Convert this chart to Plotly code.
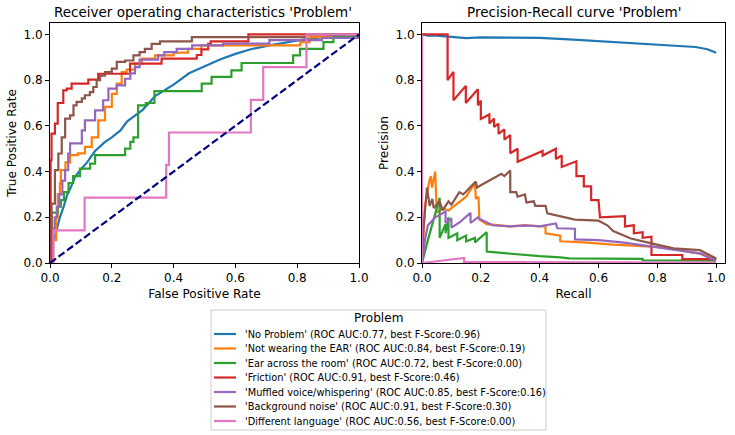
import plotly.graph_objects as go

# ---------------- data ----------------
class_names = ["No Problem", "Not wearing the EAR", "Ear across the room", "Friction",
               "Muffled voice/whispering", "Background noise", "Different language"]
roc_auc = [0.77, 0.84, 0.72, 0.91, 0.85, 0.91, 0.56]
best_f = [0.96, 0.19, 0.00, 0.46, 0.16, 0.30, 0.00]
colors = ["#1f77b4", "#ff7f0e", "#2ca02c", "#d62728", "#9467bd", "#8c564b", "#e377c2"]

# ROC curves (fpr, tpr)
roc_fpr_no_problem = [0, 0.01, 0.016, 0.032, 0.045, 0.056, 0.067, 0.081, 0.1, 0.12, 0.146, 0.178, 0.2, 0.228,
                      0.25, 0.275, 0.3, 0.34, 0.37, 0.4, 0.45, 0.5, 0.55, 0.6, 0.65, 0.71, 0.77, 0.83, 0.9, 0.96, 1.0]
roc_tpr_no_problem = [0, 0.1, 0.115, 0.20, 0.25, 0.3, 0.33, 0.377, 0.41, 0.44, 0.49, 0.53, 0.55, 0.58,
                      0.62, 0.646, 0.67, 0.73, 0.755, 0.78, 0.83, 0.86, 0.89, 0.915, 0.935, 0.952, 0.965, 0.98, 0.99, 1.0, 1.0]

roc_fpr_not_wearing = [0, 0.01, 0.02, 0.025, 0.032, 0.035, 0.05, 0.065, 0.09, 0.113, 0.135, 0.156, 0.178, 0.2,
                       0.216, 0.232, 0.248, 0.275, 0.297, 0.34, 0.40, 0.447, 0.49, 0.81, 0.84, 1.0]
roc_tpr_not_wearing = [0, 0.1, 0.2, 0.3, 0.348, 0.406, 0.44, 0.472, 0.48, 0.508, 0.55, 0.624, 0.683, 0.74,
                       0.785, 0.835, 0.846, 0.872, 0.894, 0.908, 0.92, 0.937, 0.952, 0.966, 0.988, 1.0]

roc_fpr_ear_across = [0, 0.005, 0.025, 0.035, 0.045, 0.06, 0.075, 0.097, 0.13, 0.146, 0.243, 0.26, 0.27, 0.285,
                      0.31, 0.338, 0.491, 0.523, 0.587, 0.62, 0.787, 0.809, 0.885, 0.917, 1.0]
roc_tpr_ear_across = [0, 0.22, 0.246, 0.275, 0.31, 0.35, 0.38, 0.413, 0.435, 0.472, 0.50, 0.53, 0.55, 0.69,
                      0.70, 0.752, 0.785, 0.814, 0.843, 0.875, 0.908, 0.937, 0.966, 0.988, 1.0]

roc_fpr_friction = [0, 0.002, 0.005, 0.016, 0.025, 0.043, 0.054, 0.07, 0.124, 0.156, 0.259, 0.361, 0.475, 0.49,
                    0.512, 0.52, 0.642, 1.0]
roc_tpr_friction = [0, 0.45, 0.566, 0.61, 0.70, 0.755, 0.763, 0.785, 0.802, 0.828, 0.872, 0.894, 0.91, 0.935,
                    0.959, 0.97, 1.0, 1.0]

roc_fpr_muffled = [0, 0.01, 0.015, 0.022, 0.03, 0.04, 0.049, 0.059, 0.065, 0.092, 0.103, 0.113, 0.146, 0.172,
                   0.189, 0.216, 0.243, 0.26, 0.275, 0.29, 0.35, 0.37, 0.41, 0.46, 0.56, 0.71, 0.88, 1.0]
roc_tpr_muffled = [0, 0.15, 0.2, 0.246, 0.3, 0.36, 0.406, 0.479, 0.523, 0.523, 0.58, 0.624, 0.668, 0.712,
                   0.763, 0.777, 0.806, 0.83, 0.857, 0.89, 0.908, 0.923, 0.937, 0.952, 0.96, 0.975, 0.985, 1.0]

roc_fpr_background = [0, 0.005, 0.016, 0.027, 0.038, 0.049, 0.065, 0.076, 0.086, 0.103, 0.113, 0.129, 0.14, 0.151,
                      0.162, 0.178, 0.2, 0.216, 0.243, 0.27, 0.29, 0.307, 0.329, 0.356, 0.459, 0.83, 1.0]
roc_tpr_background = [0, 0.26, 0.406, 0.479, 0.55, 0.632, 0.646, 0.69, 0.705, 0.72, 0.734, 0.748, 0.77, 0.80,
                      0.82, 0.835, 0.85, 0.88, 0.886, 0.908, 0.923, 0.937, 0.959, 0.97, 0.988, 1.0, 1.0]

roc_fpr_language = [0, 0.011, 0.112, 0.376, 0.385, 0.65, 0.69, 0.83, 1.0]
roc_tpr_language = [0, 0.143, 0.286, 0.429, 0.571, 0.714, 0.857, 1.0, 1.0]

chance_x = [0, 1]
chance_y = [0, 1]

# Precision-recall curves (recall, precision)
pr_rec_no_problem = [0, 0.02, 0.05, 0.1, 0.15, 0.2, 0.3, 0.4, 0.5, 0.6, 0.7, 0.8, 0.86, 0.93, 0.97, 1.0]
pr_prec_no_problem = [1.0, 0.995, 0.995, 0.99, 0.984, 0.987, 0.987, 0.985, 0.978, 0.97, 0.962, 0.956, 0.952, 0.945, 0.935, 0.92]

pr_rec_not_wearing = [0, 0.01, 0.025, 0.03, 0.034, 0.045, 0.05, 0.07, 0.09, 0.12, 0.15, 0.18, 0.183, 0.192, 0.195,
                      0.22, 0.3, 0.35, 0.4, 0.42, 0.42, 0.47, 0.47, 0.55, 0.65, 0.75, 0.83, 0.9, 0.95, 1.0]
pr_prec_not_wearing = [0, 0.25, 0.36, 0.38, 0.33, 0.40, 0.22, 0.24, 0.23, 0.26, 0.29, 0.35, 0.28, 0.29, 0.19,
                       0.17, 0.16, 0.165, 0.16, 0.16, 0.13, 0.12, 0.095, 0.09, 0.08, 0.075, 0.068, 0.05, 0.04, 0.02]

pr_rec_ear_across = [0, 0.02, 0.06, 0.06, 0.08, 0.08, 0.09, 0.09, 0.12, 0.12, 0.15, 0.15, 0.18, 0.18, 0.22, 0.22,
                     0.26, 0.3, 0.35, 0.4, 0.47, 0.5, 0.75, 0.75, 1.0]
pr_prec_ear_across = [0, 0.1, 0.285, 0.11, 0.17, 0.13, 0.2, 0.11, 0.13, 0.1, 0.12, 0.095, 0.11, 0.09, 0.135, 0.05,
                      0.045, 0.04, 0.035, 0.03, 0.025, 0.02, 0.018, 0.012, 0.01]

pr_rec_friction = [0, 0.087, 0.087, 0.107, 0.107, 0.149, 0.149, 0.19, 0.19, 0.2, 0.2, 0.229, 0.229, 0.245, 0.245,
                   0.26, 0.26, 0.28, 0.28, 0.3, 0.3, 0.325, 0.325, 0.41, 0.41, 0.455, 0.455, 0.475, 0.475, 0.525,
                   0.525, 0.55, 0.55, 0.575, 0.575, 0.6, 0.605, 0.69, 0.69, 0.72, 0.72, 0.75, 0.75, 0.78, 0.78,
                   0.885, 0.885, 1.0]
pr_prec_friction = [1.0, 1.0, 0.80, 0.836, 0.712, 0.775, 0.70, 0.76, 0.69, 0.71, 0.63, 0.65, 0.61, 0.632, 0.595,
                    0.61, 0.565, 0.585, 0.54, 0.56, 0.48, 0.50, 0.443, 0.49, 0.47, 0.50, 0.455, 0.47, 0.42, 0.445,
                    0.38, 0.38, 0.335, 0.335, 0.275, 0.275, 0.2, 0.205, 0.16, 0.165, 0.13, 0.135, 0.11, 0.115, 0.035,
                    0.035, 0.017, 0.017]

pr_rec_muffled = [0, 0.01, 0.02, 0.045, 0.08, 0.08, 0.1, 0.1, 0.13, 0.165, 0.165, 0.19, 0.2, 0.24, 0.3, 0.35, 0.4,
                  0.455, 0.46, 0.52, 0.52, 0.6, 0.68, 0.78, 0.855, 0.945, 0.98, 1.0]
pr_prec_muffled = [0, 0.1, 0.165, 0.2, 0.225, 0.175, 0.195, 0.155, 0.18, 0.22, 0.175, 0.2, 0.19, 0.165, 0.16, 0.165,
                   0.16, 0.173, 0.152, 0.15, 0.103, 0.1, 0.09, 0.071, 0.056, 0.042, 0.02, 0.015]

pr_rec_background = [0, 0.005, 0.017, 0.026, 0.035, 0.04, 0.06, 0.07, 0.09, 0.1, 0.127, 0.14, 0.183, 0.187, 0.2,
                     0.25, 0.27, 0.28, 0.3, 0.3, 0.32, 0.325, 0.35, 0.355, 0.38, 0.385, 0.42, 0.426, 0.48, 0.52, 0.6,
                     0.63, 0.65, 0.71, 0.78, 0.855, 0.945, 0.99, 1.0]
pr_prec_background = [0, 0.15, 0.33, 0.25, 0.28, 0.24, 0.27, 0.23, 0.27, 0.255, 0.31, 0.3, 0.356, 0.33, 0.34,
                      0.375, 0.39, 0.38, 0.405, 0.31, 0.31, 0.29, 0.3, 0.265, 0.27, 0.25, 0.25, 0.217, 0.2, 0.19, 0.185,
                      0.165, 0.14, 0.107, 0.086, 0.064, 0.056, 0.028, 0.02]

pr_rec_language = [1.0, 0.29, 0.286, 0.286, 0.143, 0.143, 0, 0]
pr_prec_language = [0.002, 0.004, 0.004, 0.005, 0.005, 0.022, 0, 1.0]

roc_x = [roc_fpr_no_problem, roc_fpr_not_wearing, roc_fpr_ear_across, roc_fpr_friction,
         roc_fpr_muffled, roc_fpr_background, roc_fpr_language]
roc_y = [roc_tpr_no_problem, roc_tpr_not_wearing, roc_tpr_ear_across, roc_tpr_friction,
         roc_tpr_muffled, roc_tpr_background, roc_tpr_language]
pr_x = [pr_rec_no_problem, pr_rec_not_wearing, pr_rec_ear_across, pr_rec_friction,
        pr_rec_muffled, pr_rec_background, pr_rec_language]
pr_y = [pr_prec_no_problem, pr_prec_not_wearing, pr_prec_ear_across, pr_prec_friction,
        pr_prec_muffled, pr_prec_background, pr_prec_language]

# ---------------- layout helpers ----------------
W, H = 735, 435
ML, MR, MT, MB = 50, 10, 23, 172
PW, PH = W - ML - MR, H - MT - MB
FONT = "DejaVu Sans"


def fx(p):
    return (p - ML) / PW


def fy(p):
    return (H - MB - p) / PH


LW = 2.2
fig = go.Figure()
for i in range(len(class_names)):
    fig.add_trace(go.Scatter(x=roc_x[i], y=roc_y[i], mode="lines",
                             line=dict(color=colors[i], width=LW, shape="linear" if i == 0 else "hv"),
                             xaxis="x", yaxis="y", showlegend=False, hoverinfo="skip"))
fig.add_trace(go.Scatter(x=chance_x, y=chance_y, mode="lines",
                         line=dict(color="navy", width=LW, dash="7.4px,3.2px"),
                         xaxis="x", yaxis="y", showlegend=False, hoverinfo="skip"))
for i in range(len(class_names)):
    fig.add_trace(go.Scatter(x=pr_x[i], y=pr_y[i], mode="lines",
                             line=dict(color=colors[i], width=LW),
                             xaxis="x2", yaxis="y2", showlegend=False, hoverinfo="skip"))

axis_common = dict(showline=True, linecolor="black", linewidth=1, mirror=True, ticks="outside",
                   ticklen=4, tickwidth=1, tickcolor="black", showgrid=False, zeroline=False,
                   tickfont=dict(family=FONT, size=12, color="black"), tickformat=".1f",
                   dtick=0.2, tick0=0, automargin=False)
title_font = dict(family=FONT, size=12.1, color="black")

fig.update_layout(
    width=W, height=H,
    margin=dict(l=ML, r=MR, t=MT, b=MB, autoexpand=False),
    paper_bgcolor="white", plot_bgcolor="white",
    font=dict(family=FONT, color="black"),
    showlegend=False,
    xaxis=dict(axis_common, domain=[0, fx(359)], range=[0, 1], anchor="y",
               title=dict(text="False Positive Rate", font=title_font, standoff=5)),
    yaxis=dict(axis_common, domain=[0, 1], range=[0, 1.05], anchor="x",
               title=dict(text="True Positive Rate", font=title_font, standoff=4)),
    xaxis2=dict(axis_common, domain=[fx(422), 1], range=[0, 1.03], anchor="y2",
                title=dict(text="Recall", font=title_font, standoff=5)),
    yaxis2=dict(axis_common, domain=[0, 1], range=[0, 1.05], anchor="x2",
                title=dict(text="Precision", font=title_font, standoff=4)),
)

annotations = [
    dict(text="Receiver operating characteristics 'Problem'", x=fx(202.5), y=fy(12), xref="paper", yref="paper",
         xanchor="center", yanchor="middle", showarrow=False, font=dict(family=FONT, size=13.5, color="black")),
    dict(text="Precision-Recall curve 'Problem'", x=fx(573.5), y=fy(12), xref="paper", yref="paper",
         xanchor="center", yanchor="middle", showarrow=False, font=dict(family=FONT, size=13.5, color="black")),
    dict(text="Problem", x=fx(378), y=fy(317.5), xref="paper", yref="paper",
         xanchor="center", yanchor="middle", showarrow=False, font=dict(family=FONT, size=12.1, color="black")),
]
shapes = [
    dict(type="rect", xref="paper", yref="paper", x0=fx(211), x1=fx(546), y0=fy(430), y1=fy(310),
         line=dict(color="#cccccc", width=1), fillcolor="rgba(255,255,255,0.8)", layer="above"),
]
entry_y0, entry_dy = 334, 14.5
for i, name in enumerate(class_names):
    yy = entry_y0 + i * entry_dy
    shapes.append(dict(type="line", xref="paper", yref="paper", x0=fx(214), x1=fx(236), y0=fy(yy), y1=fy(yy),
                       line=dict(color=colors[i], width=LW), layer="above"))
    annotations.append(dict(text=f"'{name}' (ROC AUC:{roc_auc[i]:.2f}, best F-Score:{best_f[i]:.2f})",
                            x=fx(242.5), y=fy(yy), xref="paper", yref="paper", xanchor="left", yanchor="middle",
                            showarrow=False, font=dict(family=FONT, size=9.8, color="black")))
fig.update_layout(annotations=annotations, shapes=shapes)

fig.write_html("out.html", config={"displayModeBar": False},
               post_script="document.body.style.margin='0px';")
